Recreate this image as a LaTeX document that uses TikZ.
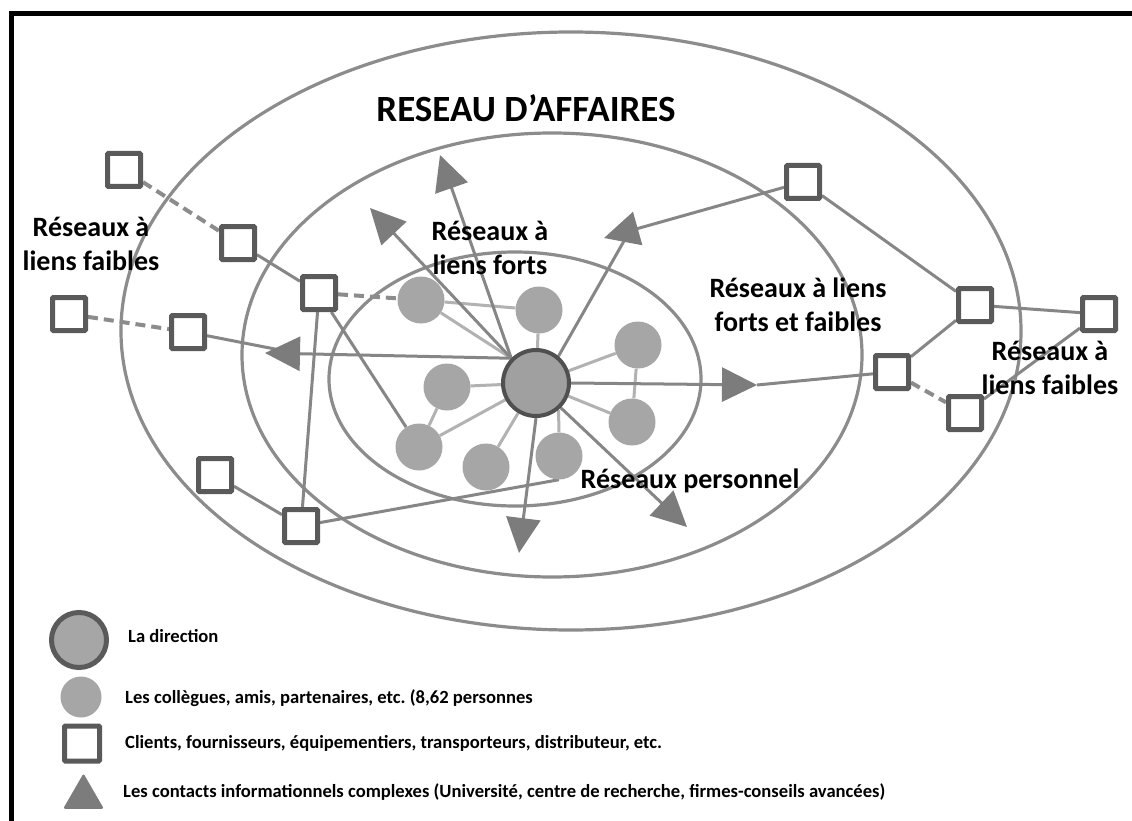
\documentclass[tikz,border=0pt]{standalone}
\usepackage{fontspec}
\setmainfont{Carlito}
\frenchspacing
\usetikzlibrary{arrows.meta,shapes.geometric}
\pgfdeclarelayer{paper}
\pgfdeclarelayer{back}
\pgfsetlayers{paper,back,main}

\definecolor{ringgray}{HTML}{8C8C8C}
\definecolor{linkgray}{HTML}{868686}
\definecolor{softgray}{HTML}{B2B2B2}
\definecolor{peergray}{HTML}{A6A6A6}
\definecolor{boxgray}{HTML}{5A5A5A}
\definecolor{headgray}{HTML}{7C7C7C}
\definecolor{coregray}{HTML}{A0A0A0}
\definecolor{coreedge}{HTML}{505050}

\begin{document}
\begin{tikzpicture}[x=1pt,y=-1pt,
  ring/.style={draw=ringgray,line width=3.2pt},
  peer/.style={circle,fill=peergray,minimum size=47pt,inner sep=0pt},
  core/.style={circle,fill=coregray,draw=coreedge,line width=4pt,minimum size=66pt,inner sep=0pt},
  partner/.style={rectangle,fill=white,draw=boxgray,line width=5pt,minimum size=33pt,inner sep=0pt,rounded corners=1pt},
  strong/.style={draw=linkgray,line width=3pt},
  soft/.style={draw=softgray,line width=3pt},
  weak/.style={draw=ringgray,line width=4pt,dash pattern=on 10pt off 6pt},
  contact/.style={draw=linkgray,line width=3pt,-{Triangle[length=35pt,width=34pt,color=headgray]}},
  lbl/.style={font=\fontsize{28}{34}\selectfont\bfseries,align=center,inner sep=0pt},
  key/.style={font=\fontsize{18.6}{21}\selectfont\bfseries,anchor=base west,inner sep=0pt},
  keytriangle/.style={regular polygon,regular polygon sides=3,fill=headgray,minimum size=47pt,inner sep=0pt,rounded corners=2pt},
]
\useasboundingbox (0,0) rectangle (1132,821);
\begin{pgfonlayer}{paper}
  \fill[white] (0,0) rectangle (1132,821);
\end{pgfonlayer}

% frame (open on the right and bottom)
\draw[line width=5pt] (11.5,821) -- (11.5,13.5) -- (1132,13.5);

% people around the management
\node[core] (dir) at (536,383) {};
\node[peer] (p1) at (421,300) {};
\node[peer] (p2) at (539,310) {};
\node[peer] (p3) at (638,345) {};
\node[peer] (p4) at (447,387) {};
\node[peer] (p5) at (632,422) {};
\node[peer] (p6) at (419,447) {};
\node[peer] (p7) at (486,467) {};
\node[peer] (p8) at (559,456) {};

% clients, suppliers, ...
\node[partner] (s1) at (124,170) {};
\node[partner] (s2) at (238,243) {};
\node[partner] (s3) at (319,293) {};
\node[partner] (s4) at (69,314) {};
\node[partner] (s5) at (188,332) {};
\node[partner] (s6) at (215,475) {};
\node[partner] (s7) at (301,526) {};
\node[partner] (s8) at (803,182) {};
\node[partner] (s9) at (975,305) {};
\node[partner] (s10) at (1099,314) {};
\node[partner] (s11) at (892,372) {};
\node[partner] (s12) at (965,413) {};

% complex information contacts (triangle ends)
\coordinate (t1) at (440,155);
\coordinate (t2) at (370,208);
\coordinate (t3) at (265,353);
\coordinate (t3in) at (285,351);
\coordinate (t4) at (604,238);
\coordinate (t4in) at (624,241);
\coordinate (t5) at (519,553);
\coordinate (t6) at (687,527);
\coordinate (t7) at (757,385);

\begin{pgfonlayer}{back}
  % the three network rings
  \draw[ring] (571,331) ellipse [x radius=450pt, y radius=299pt];
  \draw[ring] (552,355) ellipse [x radius=310pt, y radius=222pt];
  \draw[ring] (515,379) ellipse [x radius=186pt, y radius=127pt];

  % close ties inside the personal network
  \draw[soft] (p1) -- (dir.135);
  \draw[soft] (p1) -- (p2);
  \draw[soft] (p2) -- (dir);
  \draw[soft] (p3) -- (dir);
  \draw[soft] (p3) -- (p5);
  \draw[soft] (p5) -- (dir);
  \draw[soft] (p4) -- (dir);
  \draw[soft] (p4) -- (p6);
  \draw[soft] (p6) -- (dir);
  \draw[soft] (p7) -- (dir);
  \draw[soft] (p8.north) -- (dir.-50);

  % weak ties
  \draw[weak] (s1) -- (s2);
  \draw[weak] (s3) -- (p1);
  \draw[weak] (s4) -- (s5);
  \draw[weak] (s11) -- (s12);

  % business ties
  \draw[strong] (s2) -- (s3);
  \draw[strong] (s3) -- (s7);
  \draw[strong] (s3) -- (p6);
  \draw[strong] (s5) -- (t3in);
  \draw[strong] (s6) -- (s7);
  \draw[strong] (s7) -- (p8.south);
  \draw[strong] (s8) -- (s9);
  \draw[strong] (s9) -- (s10);
  \draw[strong] (s9) -- (s11);
  \draw[strong] (s12) -- (s10);
  \draw[strong] (s11) -- (t7);
  \draw[strong] (dir.50) -- (t4in);

  % links to the information contacts
  \draw[contact] (dir.135) -- (t1);
  \draw[contact] (dir.135) -- (t2);
  \draw[contact] (dir.135) -- (t3);
  \draw[contact] (s8) -- (t4);
  \draw[contact] (dir.south) -- (t5);
  \draw[contact] (dir.-45) -- (t6);
  \draw[contact] (dir.east) -- (t7);
\end{pgfonlayer}

% titles of the networks
\node[font=\fontsize{37}{40}\selectfont\bfseries,anchor=base,inner sep=0pt] (title) at (526,122) {RESEAU D’AFFAIRES};
\node[lbl] (weakW) at (91,244) {Réseaux à\\liens faibles};
\node[lbl] (strongN) at (490,248) {Réseaux à\\liens forts};
\node[lbl] (mixed) at (798,305) {Réseaux à liens\\forts et faibles};
\node[lbl] (weakE) at (1050,368) {Réseaux à\\liens faibles};
\node[lbl,anchor=base] (personal) at (690,488) {Réseaux personnel};

% legend
\node[circle,fill=peergray,draw=boxgray,line width=5pt,minimum size=55pt,inner sep=0pt] (keycore) at (79,640) {};
\node[peer,minimum size=41pt] (keypeer) at (81,697) {};
\node[partner,minimum size=35pt] (keybox) at (82,743.5) {};
\node[keytriangle] (keytri) at (83.5,797) {};
\node[key] (keytext1) at (128,642) {La direction};
\node[key] (keytext2) at (125,703) {Les collègues, amis, partenaires, etc. (8,62 personnes};
\node[key] (keytext3) at (125,748) {Clients, fournisseurs, équipementiers, transporteurs, distributeur, etc.};
\node[key] (keytext4) at (123,797) {Les contacts informationnels complexes (Université, centre de recherche, firmes-conseils avancées)};
\end{tikzpicture}
\end{document}
